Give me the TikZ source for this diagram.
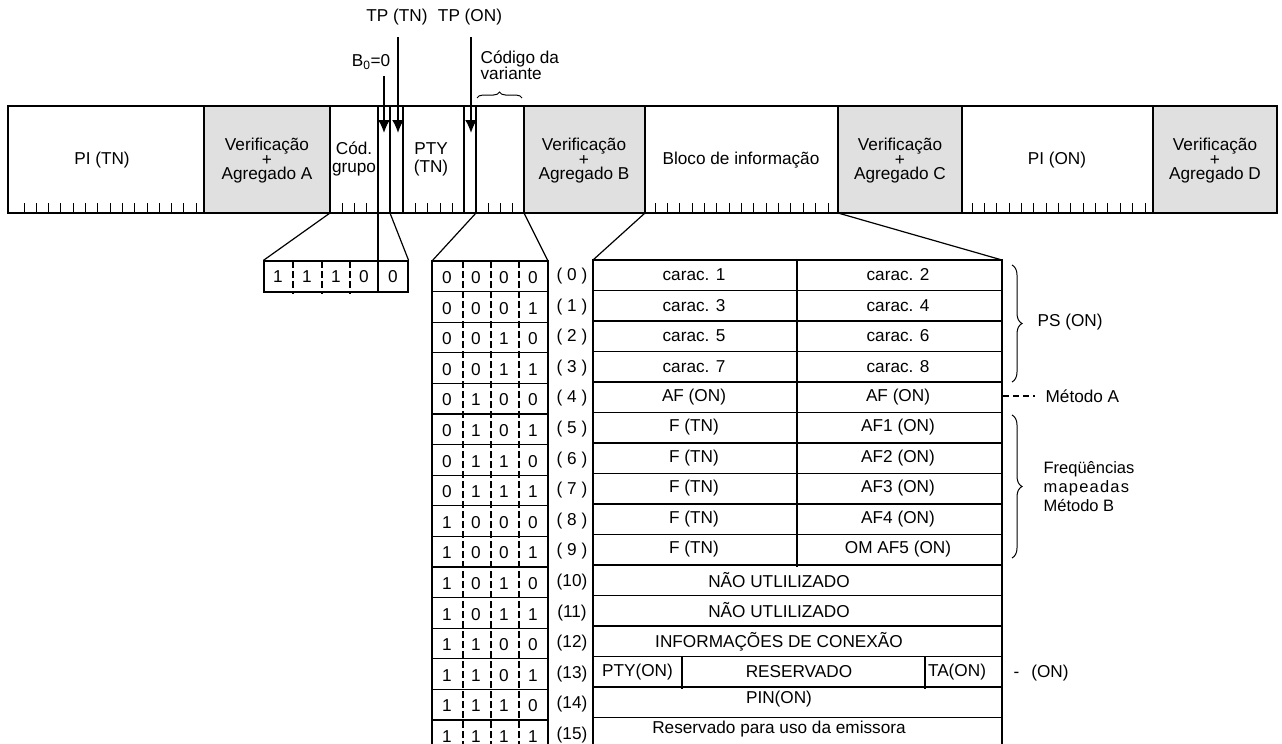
\documentclass[tikz,border=0pt]{standalone}
\usepackage{fontspec}
\setmainfont{Liberation Sans}
\usepackage{tikz}
\usetikzlibrary{arrows.meta}
\usetikzlibrary{positioning}
\usetikzlibrary{decorations.pathreplacing}

\tikzset{
  txt/.style={font=\fontsize{17.2}{14.5}\selectfont,inner sep=0pt,align=center},
  txtwide/.style={txt,font=\fontsize{17.2}{18}\selectfont},
  chk/.style={fill=black!12},
  bitline/.style={dash pattern=on 7pt off 3pt},
  tparrow/.style={line width=2pt,-{Latex[length=13pt,width=12pt]}},
  brc/.style={decorate,decoration={brace,amplitude=10pt},line width=1pt},
  tick/.style={line width=1pt}
}

\begin{document}
\lineskiplimit=-20pt
\begin{tikzpicture}[x=1pt,y=-1pt,line width=1.2pt]
  \useasboundingbox (0,0) rectangle (1282,744);

  \fill[chk] (204,106) rectangle (330,213);
  \fill[chk] (524,106) rectangle (645,213);
  \fill[chk] (838,106) rectangle (962,213);
  \fill[chk] (1153,106) rectangle (1277,213);
  \draw (8,106) rectangle (1277,213);
  \foreach \x in {204,330,378,390,403,464,476,524,645,838,962,1153}
    \draw (\x,106) -- (\x,213);

  \foreach \k in {0,...,14} \draw[tick] (24+12.3*\k,203) -- (24+12.3*\k,213);
  \foreach \k in {0,...,14} \draw[tick] (655+12.36*\k,203) -- (655+12.36*\k,213);
  \foreach \k in {0,...,14} \draw[tick] (972+12.36*\k,203) -- (972+12.36*\k,213);
  \foreach \x in {342,354,366,415,427,440,452,488,500,512} \draw[tick] (\x,203) -- (\x,213);

  \node (pitn) at (102,160)[txt]{PI (TN)};
  \node (ckA) at (267,161)[txt]{Verificação\\+\\Agregado A};
  \node (grupo) at (354,159)[txtwide]{Cód.\\grupo};
  \node (pty) at (431,159)[txtwide]{PTY\\(TN)};
  \node (ckB) at (584,161)[txt]{Verificação\\+\\Agregado B};
  \node (bloco) at (741,160)[txt]{Bloco de informação};
  \node (ckC) at (900,161)[txt]{Verificação\\+\\Agregado C};
  \node (pion) at (1057,160)[txt]{PI (ON)};
  \node (ckD) at (1215,161)[txt]{Verificação\\+\\Agregado D};

  \node (tptn) at (397,17)[txt]{TP (TN)};
  \node (tpon) at (470,17)[txt]{TP (ON)};
  \node (b0) at (371,62)[txt]{B\textsubscript{0}=0};
  \node (var) at (480,65)[txt,font=\fontsize{17.2}{16}\selectfont,align=left,anchor=west]{Código da\\variante};
  \coordinate (b0s) at (384,76);
  \coordinate (b0e) at (384,133);
  \coordinate (tns) at (398,37);
  \coordinate (tne) at (398,133);
  \coordinate (ons) at (471,37);
  \coordinate (one) at (471,133);
  \draw[tparrow](b0s)--(b0e);
  \draw[tparrow](tns)--(tne);
  \draw[tparrow](ons)--(one);
  \draw[decorate,decoration={brace,amplitude=6pt},line width=1pt](477,98)--(522,98);

  \coordinate (cg) at (330,213);
  \coordinate (bz) at (378,213);
  \coordinate (tn) at (390,213);
  \coordinate (vl) at (476,213);
  \coordinate (vr) at (524,213);
  \coordinate (bl) at (645,213);
  \coordinate (br) at (838,213);

  \node[draw,minimum width=144pt,minimum height=31pt,inner sep=0pt](grp) at (336,276.5){};
  \draw(cg)--(grp.north west);
  \draw(tn)--(grp.north east);
  \draw(bz)--(bz |- grp.south);
  \foreach \x in {293,322,350} \draw[bitline](\x,261)--(\x,294);
  \foreach \x/\v [count=\k] in {278/1,307/1,336/1,364/0,393/0}
    \node (g\k) at (\x,277)[txt]{\v};

  \coordinate (bt) at (432,261);
  \coordinate (bt2) at (548,261);
  \draw(vl)--(bt);
  \draw(vr)--(bt2);
  \draw (432,261) rectangle (548,760);
  \foreach \i in {1,...,15} \draw (432,261+30.6*\i) -- (548,261+30.6*\i);
  \foreach \x in {463,491,519} \draw[bitline] (\x,261) -- (\x,760);
  \foreach \a/\b/\c/\d [count=\i from 0] in {0/0/0/0,0/0/0/1,0/0/1/0,0/0/1/1,0/1/0/0,0/1/0/1,0/1/1/0,0/1/1/1,1/0/0/0,1/0/0/1,1/0/1/0,1/0/1/1,1/1/0/0,1/1/0/1,1/1/1/0,1/1/1/1}{
    \node (a\i) at (447,277.5+30.6*\i)[txt]{\a};
    \node (b\i) at (476,277.5+30.6*\i)[txt]{\b};
    \node (c\i) at (504,277.5+30.6*\i)[txt]{\c};
    \node (d\i) at (533,277.5+30.6*\i)[txt]{\d};
    \node (n\i) at (572,276+30.6*\i)[txt]{\ifnum\i<10 ( \i{} )\else(\i)\fi};
  }

  \coordinate (it) at (593,260);
  \coordinate (it2) at (1002,260);
  \draw(bl)--(it);
  \draw(br)--(it2);
  \draw (593,260) rectangle (1002,760);
  \foreach \i in {1,...,15} \draw (593,260+30.5*\i) -- (1002,260+30.5*\i);
  \draw (797,260) -- (797,567);
  \draw (682,656.5) -- (682,689);
  \draw (925,656.5) -- (925,689);
  \foreach \l/\r [count=\i from 0] in {carac. 1/carac. 2,carac. 3/carac. 4,carac. 5/carac. 6,carac. 7/carac. 8,AF (ON)/AF (ON),F (TN)/AF1 (ON),F (TN)/AF2 (ON),F (TN)/AF3 (ON),F (TN)/AF4 (ON),F (TN)/OM AF5 (ON)}{
    \node (L\i) at (694,275+30.5*\i)[txt]{\l};
    \node (R\i) at (898,275+30.5*\i)[txt]{\r};
  }
  \node (t10) at (779,580)[txt]{NÃO UTLILIZADO};
  \node (t11) at (779,610.5)[txt]{NÃO UTLILIZADO};
  \node (t12) at (779,642)[txt]{INFORMAÇÕES DE CONEXÃO};
  \node (t13a) at (637.5,672)[txt]{PTY(ON)};
  \node (t13b) at (799,672)[txt]{RESERVADO};
  \node (t13c) at (957,672)[txt]{TA(ON)};
  \node (t14) at (779,699)[txt]{PIN(ON)};
  \node (t15) at (779,729)[txt]{Reservado para uso da emissora};

  \draw[brc](1012,265)--(1012,382);
  \node (ps) at (1037,322)[txt,anchor=west]{PS (ON)};
  \coordinate (ma) at (1003,396);
  \node (metA) at (1045,396)[txt,anchor=west]{Método A};
  \draw[dash pattern=on 6pt off 4pt](ma)--([xshift=-10pt]metA.west);
  \draw[brc](1012,415)--(1012,558);
  \node (metB) at (1043,487)[txt,font=\fontsize{16.5}{19}\selectfont,anchor=west,align=left]{Freqüências\\m\kern1.2pt a\kern1.2pt p\kern1.2pt e\kern1.2pt a\kern1.2pt d\kern1.2pt a\kern1.2pt s\\Método B};
  \node (on13) at (1013,673)[txt,anchor=west]{-\hspace{12pt}(ON)};
\end{tikzpicture}
\end{document}
